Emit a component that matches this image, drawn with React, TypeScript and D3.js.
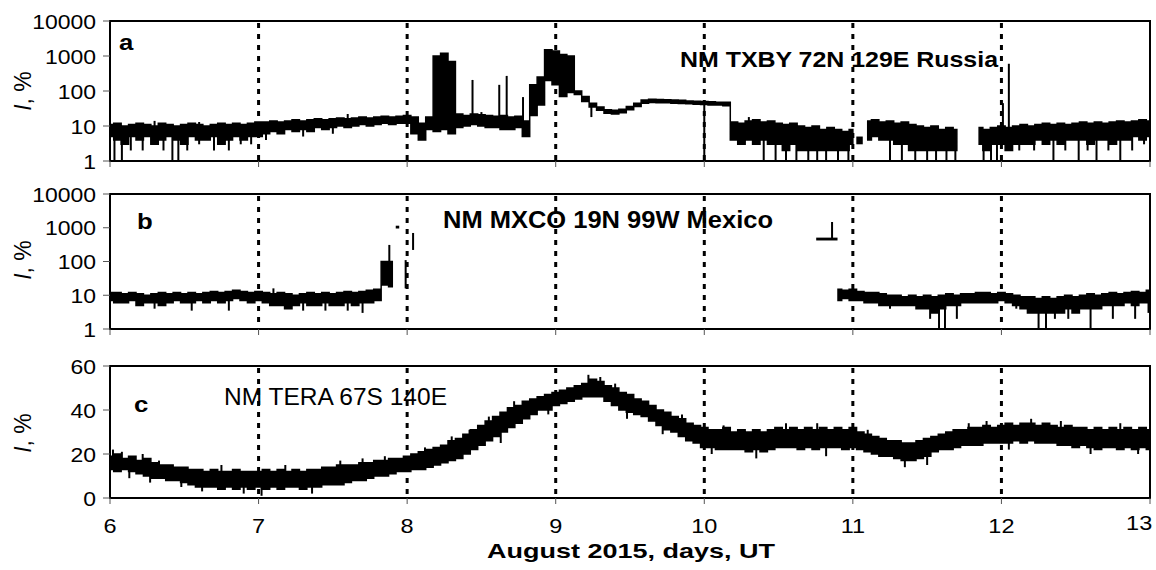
import * as d3 from "d3";

// sample step of the digitised envelopes (days), starting at Aug 6 00 UT
const T0 = 6;
const STEP = 0.05;

const DAY_TICKS = [6, 7, 8, 9, 10, 11, 12, 13];
const DOTTED_DAYS = [7, 8, 9, 10, 11, 12];
const LOG_TICKS = [1, 10, 100, 1000, 10000];
const LOG_TICK_LABELS = ["1", "10", "100", "1000", "10000"];
const LIN_TICKS = [0, 20, 40, 60];
const LIN_TICK_LABELS = ["0", "20", "40", "60"];

// ---- panel a: TXBY, upper / lower envelope (null = no data)
const A_HI: (number | null)[] = [
  11, 12, 10, 11, 12, 11, 10, 12, 11, 10, 11, 12, 11, 10, 11, 12, 11, 12, 11, 12, 13,
  13, 14, 13, 14, 15, 14, 15, 16, 15, 16, 17, 16, 17, 18, 17, 18, 19, 18, 19, 20,
  18, 12, 18, 1000, 1200, 700,
  22, 20, 22, 21, 20, 19, 20, 18, 19, 14,
  150, 250, 1500, 1400, 1100, 1000,
  100, 70, 45, 35, 29, 28, 30, 36, 45, 55, 58, 57, 56, 55, 54, 52, 51, 50, 49, 48, 48,
  13, 12, 14, 15, 13, 14, 12, 11, 12, 10, 9, 10, 8, 9, 8, 7, 8,
  null,
  14, 15, 13, 14, 12, 13, 11, 10, 9, 10, 8, 9, 8,
  null, null,
  9, 8, 9, 10, 9, 10, 11, 10, 11, 12, 11, 12, 11, 12, 13, 12, 13, 12, 13, 14, 13, 14, 15, 14,
];
const A_LO: (number | null)[] = [
  5, 4, 3, 5, 4, 5, 3, 4, 5, 4, 3, 5, 4, 4, 5, 3, 4, 5, 4, 5, 5,
  6, 7, 6, 8, 7, 8, 7, 9, 8, 9, 10, 9, 10, 11, 10, 11, 12, 11, 12, 12,
  6, 4, 8, 7, 8, 6,
  9, 10, 11, 10, 9, 9, 8, 8, 9, 5,
  20, 40, 200, 150, 70, 90,
  80, 50, 35, 28, 23, 22, 24, 29, 36, 45, 47, 46, 46, 45, 44, 43, 42, 41, 40, 40, 38,
  4, 3, 4, 3, 4, 3, 3, 2, 3, 2, 2, 2, 2, 2, 2, 2, 3,
  null,
  4, 5, 4, 4, 3, 3, 2, 2, 2, 2, 2, 2, 2,
  null, null,
  3, 2, 3, 3, 2, 3, 3, 3, 4, 3, 4, 3, 4, 4, 4, 3, 4, 4, 3, 4, 4, 5, 4, 5,
];
// [day, value] single-sample excursions
const A_SPIKES: [number, number][] = [
  [6.03, 1], [6.08, 1], [6.14, 2], [6.22, 2], [6.28, 3], [6.36, 2], [6.42, 1], [6.46, 1],
  [6.52, 2], [6.6, 3], [6.7, 2], [6.8, 2], [6.88, 3], [6.95, 3], [7.05, 4], [7.3, 5],
  [7.5, 6], [6.3, 14], [6.6, 13], [7.6, 22], [8.5, 25],
  [8.44, 207], [8.62, 150], [8.67, 270], [8.78, 67], [9.24, 18], [10.0, 1], [10.3, 18],
  [10.4, 1], [10.48, 1], [10.55, 1], [10.62, 1], [10.7, 1], [10.76, 1], [10.82, 1],
  [10.9, 1], [10.97, 1], [11.25, 1], [11.33, 1], [11.42, 1], [11.5, 1], [11.56, 1],
  [11.63, 1], [11.69, 1], [11.88, 1], [11.93, 1], [11.97, 1], [12.01, 45], [12.05, 600],
  [12.12, 2], [12.22, 2], [12.35, 1], [12.43, 2], [12.52, 1], [12.58, 2], [12.64, 1],
  [12.72, 2], [12.8, 1], [12.88, 2], [12.96, 3],
];
// [day start, day end, low, high] isolated pieces
const A_FRAGS: [number, number, number, number][] = [[11.03, 11.06, 3, 5]];

// ---- panel b: MXCO
const B_HI: (number | null)[] = [
  12, 12, 11, 12, 11, 10, 11, 12, 11, 12, 11, 12, 11, 12, 13, 12, 13, 14, 13, 12, 13,
  12, 11, 12, 11, 10, 11, 12, 11, 12, 11, 12, 13, 12, 13, 14, 15,
  100, 100,
  ...Array(59).fill(null),
  15, 14, 15, 13, 12, 12, 11, 10, 10, 9, 10, 9, 10, 9, 10, 11, 10, 11, 11, 12, 12, 11,
  12, 11, 10, 9, 9, 8, 9, 8, 9, 10, 9, 10, 11, 10, 11, 12, 11, 12, 13, 12, 14,
];
const B_LO: (number | null)[] = [
  7, 6, 6, 7, 5, 6, 6, 5, 6, 7, 6, 6, 7, 6, 7, 6, 7, 8, 7, 6, 7,
  6, 5, 5, 4, 5, 6, 5, 5, 6, 5, 5, 6, 5, 6, 6, 7,
  20, 18,
  ...Array(59).fill(null),
  7, 8, 7, 7, 6, 6, 5, 5, 5, 5, 5, 4, 4, 3, 4, 5, 5, 6, 6, 6, 6, 6,
  7, 6, 5, 4, 3, 3, 3, 3, 3, 4, 3, 4, 4, 4, 5, 5, 5, 6, 5, 6, 6,
];
const B_SPIKES: [number, number][] = [
  [6.3, 4], [6.55, 3.5], [6.8, 3.5], [7.1, 16], [7.3, 3.5], [7.45, 3.5], [7.6, 3.5],
  [7.7, 3], [7.88, 310], [11.25, 4], [11.52, 2], [11.58, 1], [11.62, 1], [11.7, 2],
  [12.1, 4], [12.25, 1], [12.3, 1], [12.36, 2], [12.45, 2], [12.6, 1], [12.75, 2],
  [12.9, 2], [12.99, 3],
];
const B_FRAGS: [number, number, number, number][] = [
  [7.93, 7.94, 950, 1150],
  [7.99, 7.99, 16, 110],
  [8.04, 8.04, 220, 700],
  [10.76, 10.89, 420, 510],
  [10.86, 10.86, 465, 1480],
];

// ---- panel c: TERA (linear)
const C_HI: (number | null)[] = [
  19, 20, 18, 19, 17, 18, 16, 15, 15, 14, 14, 13, 13, 12, 13, 12, 12, 13, 12, 12, 12,
  13, 12, 13, 12, 13, 12, 13, 13, 14, 14, 15, 15, 15, 16, 16, 17, 17, 18, 18, 19,
  20, 21, 22, 23, 24, 26, 27, 29, 31, 33, 35, 37, 39, 41, 42, 44, 45, 46, 47, 48,
  49, 50, 51, 52, 54, 53, 51, 50, 48, 47, 45, 44, 42, 40, 39, 37, 36, 34, 33, 32,
  31, 31, 32, 30, 31, 30, 31, 30, 31, 32, 31, 32, 31, 32, 31, 32, 31, 32, 31, 32,
  30, 29, 28, 27, 26, 26, 25, 25, 26, 27, 28, 29, 30, 31, 31, 32, 32, 33, 32, 33,
  34, 33, 34, 34, 33, 34, 33, 32, 33, 32, 32, 31, 32, 31, 32, 31, 32, 31, 32, 31,
];
const C_LO: (number | null)[] = [
  13, 12, 13, 12, 11, 10, 9, 9, 8, 8, 7, 6, 5, 5, 5, 4, 5, 4, 5, 4, 5,
  4, 5, 4, 5, 5, 4, 5, 5, 6, 6, 6, 7, 8, 8, 9, 10, 10, 11, 12, 12,
  13, 13, 14, 15, 16, 17, 18, 20, 22, 24, 26, 28, 30, 32, 34, 36, 38, 40, 40, 42,
  43, 44, 45, 46, 46, 46, 44, 42, 40, 39, 38, 37, 35, 33, 31, 30, 28, 26, 25, 23,
  23, 22, 22, 22, 22, 21, 22, 21, 22, 23, 23, 23, 22, 23, 22, 23, 23, 23, 22, 23,
  22, 21, 20, 19, 19, 18, 17, 17, 18, 19, 21, 22, 22, 23, 24, 24, 24, 25, 25, 25,
  25, 26, 25, 26, 25, 25, 25, 24, 24, 23, 24, 23, 22, 23, 23, 22, 23, 22, 23, 22,
];
const C_SPIKES: [number, number][] = [
  [6.02, 22], [6.08, 21], [6.13, 9], [6.22, 20], [6.27, 7], [6.33, 17], [6.48, 5],
  [6.62, 3], [6.75, 15], [6.9, 2], [7.02, 1], [7.18, 15], [7.36, 2], [7.55, 17],
  [7.7, 18], [7.85, 19], [8.12, 23], [8.3, 28], [8.42, 31], [8.55, 37], [8.63, 25],
  [8.72, 44], [8.95, 38], [9.22, 56], [9.3, 55], [9.4, 52], [9.48, 36], [9.72, 29],
  [9.85, 38], [10.05, 20], [10.13, 33], [10.35, 18], [10.55, 34], [10.76, 34],
  [10.82, 19], [11.1, 31], [11.35, 14], [11.5, 15], [11.78, 34], [11.9, 35],
  [12.05, 22], [12.2, 36], [12.4, 35], [12.6, 20], [12.8, 34], [12.92, 20],
];

const X0 = 110;
const X1 = 1150;
const STRETCH = 1.12; // the source figure is slightly widened
const FONT = "Liberation Sans, Arial, sans-serif";

type Sample = { day: number; hi: number | null; lo: number | null };

type PanelCfg = {
  id: string;
  top: number;
  bottom: number;
  log: boolean;
  hi: (number | null)[];
  lo: (number | null)[];
  spikes: [number, number][];
  frags: [number, number, number, number][];
  letterX: number;
  letterY: number;
  station: string;
  stX: number;
  stY: number;
  stLen: number;
  stBold: boolean;
  stSize: number;
  titleY: number;
};

const PANELS: PanelCfg[] = [
  { id: "a", top: 21, bottom: 161, log: true, hi: A_HI, lo: A_LO, spikes: A_SPIKES, frags: A_FRAGS,
    letterX: 119, letterY: 50, station: "NM TXBY 72N 129E Russia", stX: 680, stY: 67, stLen: 318,
    stBold: true, stSize: 22, titleY: 91 },
  { id: "b", top: 194, bottom: 329, log: true, hi: B_HI, lo: B_LO, spikes: B_SPIKES, frags: B_FRAGS,
    letterX: 137, letterY: 229, station: "NM MXCO 19N 99W Mexico", stX: 443, stY: 228, stLen: 330,
    stBold: true, stSize: 23, titleY: 260 },
  { id: "c", top: 366, bottom: 498, log: false, hi: C_HI, lo: C_LO, spikes: C_SPIKES, frags: [],
    letterX: 134, letterY: 412, station: "NM TERA 67S 140E", stX: 224, stY: 405, stLen: 223,
    stBold: false, stSize: 24, titleY: 433 },
];

const x = d3.scaleLinear().domain([6, 13]).range([X0, X1]);

const Panel = ({ cfg }: { cfg: PanelCfg }) => {
  const y = cfg.log
    ? d3.scaleLog().domain([1, 10000]).range([cfg.bottom, cfg.top])
    : d3.scaleLinear().domain([0, 60]).range([cfg.bottom, cfg.top]);
  const ticks = cfg.log ? LOG_TICKS : LIN_TICKS;
  const tickLabels = cfg.log ? LOG_TICK_LABELS : LIN_TICK_LABELS;

  const samples: Sample[] = cfg.hi.map((h, i) => ({ day: T0 + i * STEP, hi: h, lo: cfg.lo[i] }));
  const area = d3
    .area<Sample>()
    .defined((d) => d.hi != null && d.lo != null)
    .x((d) => x(d.day))
    .y0((d) => y(d.lo as number))
    .y1((d) => y(d.hi as number))
    .curve(d3.curveStep);

  const mid = (s: Sample) =>
    cfg.log ? Math.sqrt((s.hi as number) * (s.lo as number)) : ((s.hi as number) + (s.lo as number)) / 2;

  const clipId = "clip-" + cfg.id;
  return (
    <g>
      <defs>
        <clipPath id={clipId}>
          <rect x={X0} y={cfg.top} width={X1 - X0} height={cfg.bottom - cfg.top} />
        </clipPath>
      </defs>
      {/* dotted day separators */}
      {DOTTED_DAYS.map((d) => (
        <line key={d} x1={x(d)} x2={x(d)} y1={cfg.top + 2} y2={cfg.bottom} stroke="#000"
          strokeWidth={3} strokeDasharray="5,6" />
      ))}
      <g clipPath={`url(#${clipId})`}>
        <path d={area(samples) || undefined} fill="#000" stroke="#000" strokeWidth={1.5} />
        {cfg.spikes.map(([d, v], i) => {
          const s = samples[Math.round((d - T0) / STEP)];
          if (!s || s.hi == null) return null;
          return (
            <line key={i} x1={x(d)} x2={x(d)} y1={y(mid(s))} y2={y(v)} stroke="#000" strokeWidth={2} />
          );
        })}
        {cfg.frags.map(([d0, d1, lo, hi], i) => (
          <rect key={i} x={x(d0) - 1} y={y(hi)} width={Math.max(2, x(d1) - x(d0) + 2)}
            height={Math.max(2, y(lo) - y(hi))} fill="#000" />
        ))}
      </g>
      {/* frame */}
      <rect x={X0} y={cfg.top} width={X1 - X0} height={cfg.bottom - cfg.top} fill="none"
        stroke="#000" strokeWidth={2} />
      {/* y ticks */}
      {ticks.map((t, i) => (
        <g key={t}>
          <line x1={X0 - 7} x2={X0} y1={y(t)} y2={y(t)} stroke="#555" strokeWidth={1} />
          <text transform={`translate(96,${y(t) + 7.5}) scale(${STRETCH},1)`} textAnchor="end"
            fontSize={20.5} fontFamily={FONT}>
            {tickLabels[i]}
          </text>
        </g>
      ))}
      {/* x ticks */}
      {DAY_TICKS.map((d) => (
        <line key={d} x1={x(d)} x2={x(d)} y1={cfg.bottom} y2={cfg.bottom + 6} stroke="#555" strokeWidth={1} />
      ))}
      <text transform={`translate(${cfg.letterX},${cfg.letterY}) scale(${STRETCH},1)`} fontSize={23}
        fontWeight="bold" fontFamily={FONT}>
        {cfg.id}
      </text>
      <text x={cfg.stX} y={cfg.stY} fontSize={cfg.stSize} fontWeight={cfg.stBold ? "bold" : "normal"}
        textLength={cfg.stLen} lengthAdjust="spacingAndGlyphs" fontFamily={FONT}>
        {cfg.station}
      </text>
      <text transform={`translate(31,${cfg.titleY}) rotate(-90)`} textAnchor="middle" fontSize={23}
        fontFamily={FONT}>
        <tspan fontStyle="italic">I</tspan>, %
      </text>
    </g>
  );
};

export default function App() {
  return (
    <svg width={1156} height={570} style={{ position: "absolute", left: 0, top: 0, background: "#fff" }}>
      {PANELS.map((p) => (
        <Panel key={p.id} cfg={p} />
      ))}
      {DAY_TICKS.map((d) => (
        <text key={d} transform={`translate(${x(d)},${d === 13 ? 530 : 533}) scale(${STRETCH},1)`}
          textAnchor={d === 13 ? "end" : "middle"} dx={d === 13 ? 2 : 0} fontSize={21} fontFamily={FONT}>
          {d}
        </text>
      ))}
      <text x={487} y={558} fontSize={21} fontWeight="bold" textLength={288} lengthAdjust="spacingAndGlyphs"
        fontFamily={FONT}>
        August 2015, days, UT
      </text>
    </svg>
  );
}
